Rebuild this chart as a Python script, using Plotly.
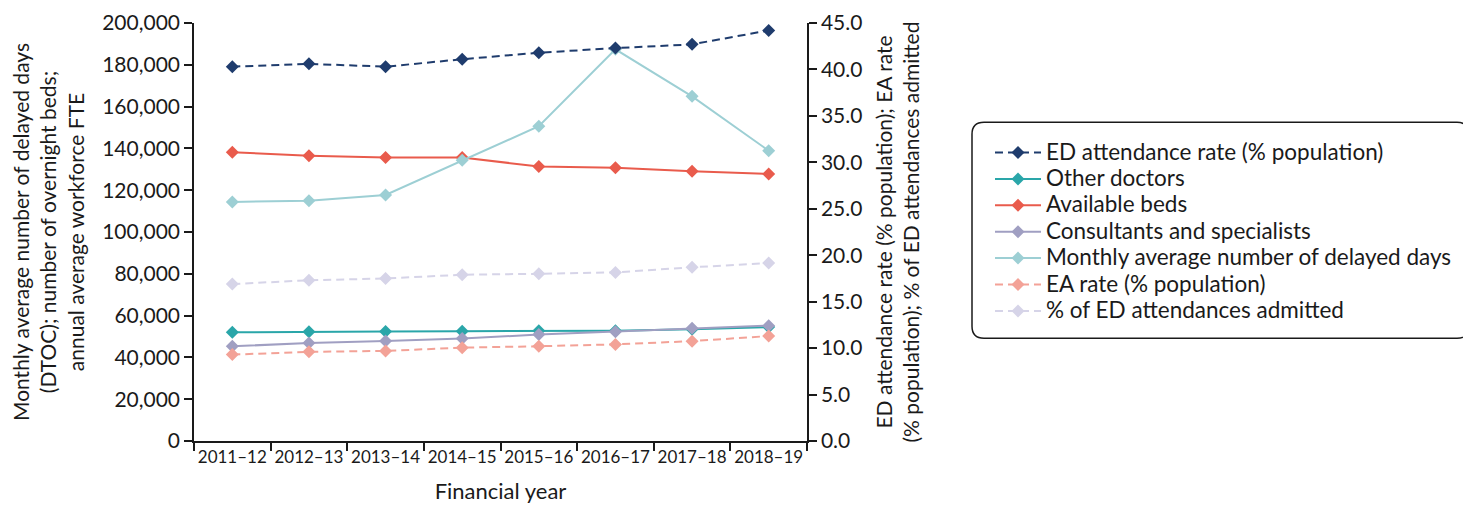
import plotly.graph_objects as go

years = ["2011–12", "2012–13", "2013–14", "2014–15", "2015–16", "2016–17", "2017–18", "2018–19"]

ed_attendance_rate = [40.3, 40.6, 40.3, 41.1, 41.8, 42.3, 42.7, 44.2]
other_doctors = [52000, 52300, 52400, 52500, 52700, 52800, 53500, 54500]
available_beds = [138200, 136500, 135600, 135700, 131300, 130800, 129100, 127800]
consultants = [45300, 46900, 47900, 49100, 50900, 52300, 54000, 55200]
delayed_days = [114400, 115000, 117700, 134300, 150600, 187400, 164900, 138900]
ea_rate = [9.3, 9.6, 9.7, 10.05, 10.2, 10.4, 10.75, 11.3]
pct_admitted = [16.9, 17.3, 17.5, 17.9, 18.0, 18.15, 18.7, 19.15]

series = [
    ("ED attendance rate (% population)", ed_attendance_rate, "y2", "#1f3c6d", "dash"),
    ("Other doctors", other_doctors, "y", "#2aa6a9", "solid"),
    ("Available beds", available_beds, "y", "#e95b4c", "solid"),
    ("Consultants and specialists", consultants, "y", "#a09fc2", "solid"),
    ("Monthly average number of delayed days", delayed_days, "y", "#9dcfd4", "solid"),
    ("EA rate (% population)", ea_rate, "y2", "#f3a297", "dash"),
    ("% of ED attendances admitted", pct_admitted, "y2", "#d6d4e8", "dash"),
]

FONT = "Lato, 'Open Sans', sans-serif"
fig = go.Figure()
for i, (name, vals, ax, col, dash) in enumerate(series):
    fig.add_trace(go.Scatter(
        x=years, y=vals, name=f'<span style="font-size:22.5px">{name}</span>', yaxis=ax,
        mode="lines+markers",
        line=dict(color=col, width=2, dash="8px,5px" if dash == "dash" else "solid"),
        marker=dict(symbol="diamond", size=10, color=col),
    ))

# page is offset by the default 8px body margin, so figure coords = page coords - 8
OFF = 8
L, R, T, B = 194 - OFF, 807 - OFF, 22.7 - OFF, 440.7 - OFF
W, H = 1471 - OFF, 508 - OFF
pw, ph = R - L, B - T

def px(x):
    return (x - OFF - L) / pw

def py(y):
    return (B - (y - OFF)) / ph

# rounded legend box (page coords)
x0, x1, y0, y1 = px(972), px(1469), py(338), py(122)
rx, ry = 12 / pw, 12 / ph
path = (f"M{x0+rx},{y0} L{x1-rx},{y0} Q{x1},{y0} {x1},{y0+ry} L{x1},{y1-ry} Q{x1},{y1} {x1-rx},{y1} "
        f"L{x0+rx},{y1} Q{x0},{y1} {x0},{y1-ry} L{x0},{y0+ry} Q{x0},{y0} {x0+rx},{y0} Z")

axis_common = dict(
    showline=True, linecolor="#1a1a1a", linewidth=1.5,
    ticks="outside", tickcolor="#1a1a1a", tickwidth=1.5,
    showgrid=False, zeroline=False, automargin=False,
)

fig.update_layout(
    width=W, height=H,
    margin=dict(l=L, r=W - R, t=T, b=H - B, autoexpand=False),
    plot_bgcolor="white", paper_bgcolor="white",
    font=dict(family=FONT, size=21, color="#1a1a1a"),
    showlegend=True,
    legend=dict(
        x=px(990), y=py(134), xanchor="left", yanchor="top",
        font=dict(family=FONT, size=18, color="#1a1a1a"),
        bgcolor="rgba(0,0,0,0)", borderwidth=0,
        traceorder="normal", itemwidth=46,
    ),
    shapes=[dict(type="path", path=path, xref="paper", yref="paper",
                 line=dict(color="#1a1a1a", width=1.5), fillcolor="rgba(0,0,0,0)")],
    xaxis=dict(
        type="category", range=[-0.5, 7.5], tickson="boundaries", ticklen=8,
        tickangle=0, tickfont=dict(size=17),
        title=dict(text="Financial year", font=dict(size=22), standoff=17),
        **axis_common,
    ),
    yaxis=dict(
        range=[0, 200000], dtick=20000, tickformat=",", ticklen=8,
        title=dict(text="Monthly average number of delayed days<br>(DTOC); number of overnight beds;<br>annual average workforce FTE",
                   font=dict(size=21), standoff=14),
        **axis_common,
    ),
    yaxis2=dict(
        range=[0, 45], dtick=5, tickformat=".1f", overlaying="y", side="right", ticklen=8,
        title=dict(text="ED attendance rate (% population); EA rate<br>(% population); % of ED attendances admitted",
                   font=dict(size=21), standoff=16),
        **axis_common,
    ),
)

fig.write_html("out.html")
